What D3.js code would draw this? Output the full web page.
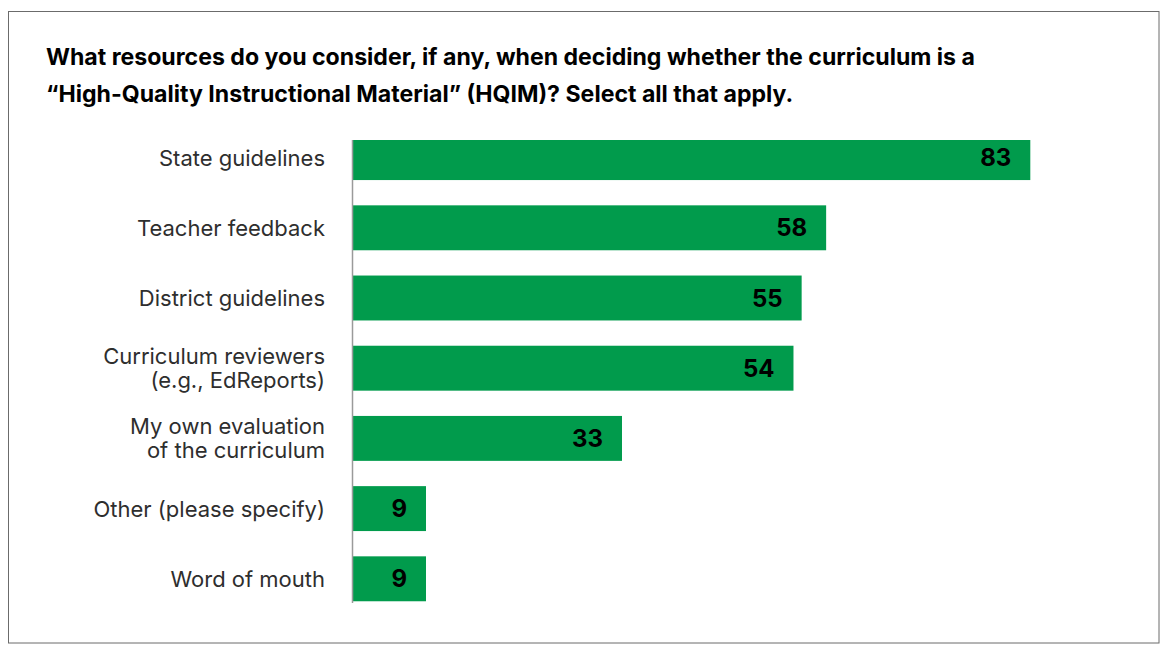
<!DOCTYPE html>
<html>
<head>
<meta charset="utf-8">
<script src="https://cdn.jsdelivr.net/npm/d3@7/dist/d3.min.js"></script>
<style>
html,body{margin:0;padding:0;background:#fff;}
svg{display:block;}
</style>
</head>
<body>
<svg id="chart" width="1160" height="646"></svg>
<script>
const categories = [
  ["State guidelines"],
  ["Teacher feedback"],
  ["District guidelines"],
  ["Curriculum reviewers", "(e.g., EdReports)"],
  ["My own evaluation", "of the curriculum"],
  ["Other (please specify)"],
  ["Word of mouth"]
];
const values = [83, 58, 55, 54, 33, 9, 9];
const titleLines = [
  "What resources do you consider, if any, when deciding whether the curriculum is a",
  "\u201CHigh-Quality Instructional Material\u201D (HQIM)? Select all that apply."
];

const svg = d3.select("#chart");
const W = 1160, H = 646;
const FONT = "Inter, 'Open Sans', sans-serif";

// frame
svg.append("rect").attr("x", 8.5).attr("y", 11.5).attr("width", 1150.5).attr("height", 631.5)
  .attr("fill", "#fff").attr("stroke", "#6b6b6b").attr("stroke-width", 1);

// title
svg.append("g").selectAll("text").data(titleLines).join("text")
  .attr("x", 46).attr("y", (d, i) => 65 + i * 37)
  .attr("font-family", FONT).attr("font-weight", 700).attr("font-size", 23.1)
  .attr("fill", "#000").text(d => d);

const x0 = 352.5;
const x = d3.scaleLinear().domain([0, 83]).range([x0, 1030.3]);
const keys = categories.map(c => c.join(" "));
const y = d3.scaleBand().domain(keys).range([122.5, 613.9]).paddingInner(0.36).paddingOuter(0.18);

svg.append("defs").append("clipPath").attr("id", "plotclip")
  .append("rect").attr("x", 0).attr("y", 140).attr("width", W).attr("height", 500);

svg.append("g").attr("clip-path", "url(#plotclip)")
  .selectAll("rect").data(values).join("rect")
  .attr("x", x(0)).attr("y", (d, i) => y(keys[i]))
  .attr("width", d => x(d) - x(0)).attr("height", y.bandwidth())
  .attr("fill", "#019b4c");

// axis line
svg.append("line").attr("x1", 352.5).attr("x2", 352.5).attr("y1", 140).attr("y2", 603)
  .attr("stroke", "#9a9a9a").attr("stroke-width", 1.5);

// value labels
svg.append("g").selectAll("text").data(values).join("text")
  .attr("x", d => x(d) - 19).attr("y", (d, i) => y(keys[i]) + y.bandwidth() / 2)
  .attr("dy", "0.36em").attr("text-anchor", "end")
  .attr("font-family", FONT).attr("font-weight", 700).attr("font-size", 24)
  .attr("fill", "#000").text(d => d);

// category labels
const lab = svg.append("g").selectAll("text").data(categories).join("text")
  .attr("text-anchor", "end").attr("font-family", FONT).attr("font-size", 22)
  .attr("fill", "#2e2e2e");
lab.each(function(d, i) {
  const cy = y(keys[i]) + y.bandwidth() / 2;
  const lh = 24;
  const t = d3.select(this);
  d.forEach((line, j) => {
    t.append("tspan").attr("x", 325)
      .attr("y", cy + (j - (d.length - 1) / 2) * lh)
      .attr("dy", "0.36em").text(line);
  });
});
</script>
</body>
</html>
